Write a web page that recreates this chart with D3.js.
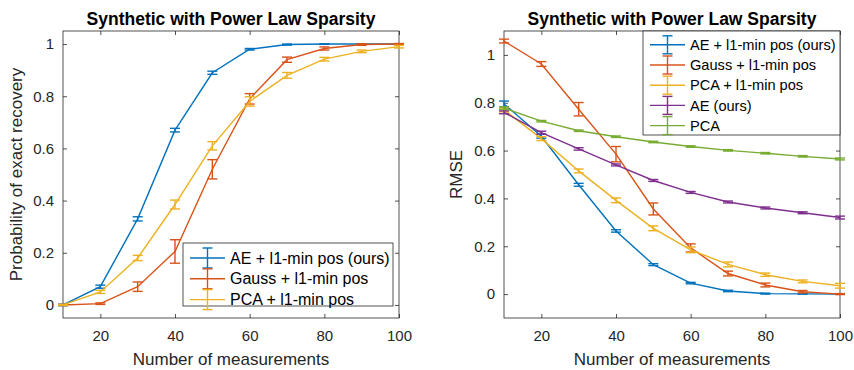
<!DOCTYPE html>
<html>
<head>
<meta charset="utf-8">
<script src="https://cdn.jsdelivr.net/npm/d3@7"></script>
<style>
  body { margin: 0; background: #fff; }
  svg { display: block; font-family: "Liberation Sans", Arial, sans-serif; }
</style>
</head>
<body>
<svg id="chart" width="854" height="370"></svg>
<script>
// ---------- DATA ----------
const measurements = [10, 20, 30, 40, 50, 60, 70, 80, 90, 100];

// Left: Probability of exact recovery
const probAE    = [0, 0.07, 0.33, 0.67, 0.89, 0.98, 0.998, 1.0, 1.0, 1.0];
const probAEErr = [0.003, 0.006, 0.008, 0.007, 0.006, 0.003, 0.002, 0.001, 0.001, 0.001];
const probGauss    = [0, 0.005, 0.07, 0.205, 0.52, 0.79, 0.94, 0.983, 0.998, 1.0];
const probGaussErr = [0.002, 0.003, 0.018, 0.045, 0.037, 0.02, 0.01, 0.006, 0.003, 0.002];
const probPCA    = [0, 0.05, 0.18, 0.385, 0.61, 0.78, 0.88, 0.942, 0.972, 0.99];
const probPCAErr = [0.002, 0.006, 0.01, 0.017, 0.016, 0.018, 0.011, 0.007, 0.005, 0.005];

// Right: RMSE
const rmseAE    = [0.795, 0.66, 0.457, 0.264, 0.123, 0.046, 0.013, 0.002, 0.001, 0.0];
const rmseAEErr = [0.012, 0.008, 0.006, 0.005, 0.004, 0.003, 0.003, 0.002, 0.001, 0.001];
const rmseGauss    = [1.058, 0.962, 0.773, 0.585, 0.356, 0.193, 0.086, 0.038, 0.01, 0.0];
const rmseGaussErr = [0.008, 0.01, 0.028, 0.032, 0.025, 0.017, 0.01, 0.008, 0.005, 0.002];
const rmsePCA    = [0.77, 0.65, 0.515, 0.392, 0.275, 0.185, 0.124, 0.081, 0.053, 0.035];
const rmsePCAErr = [0.008, 0.008, 0.008, 0.01, 0.01, 0.012, 0.01, 0.007, 0.006, 0.01];
const rmseAEonly    = [0.76, 0.675, 0.607, 0.54, 0.475, 0.425, 0.385, 0.36, 0.34, 0.32];
const rmseAEonlyErr = [0.006, 0.006, 0.005, 0.004, 0.004, 0.004, 0.004, 0.004, 0.004, 0.006];
const rmsePCAonly    = [0.778, 0.723, 0.683, 0.658, 0.636, 0.617, 0.601, 0.589, 0.576, 0.565];
const rmsePCAonlyErr = [0.005, 0.003, 0.003, 0.003, 0.003, 0.003, 0.003, 0.003, 0.003, 0.004];

const xTicks = [20, 40, 60, 80, 100];
const yTicksLeft = [0, 0.2, 0.4, 0.6, 0.8, 1];
const yTicksRight = [0, 0.2, 0.4, 0.6, 0.8, 1];

const names = ["AE + l1-min pos (ours)", "Gauss + l1-min pos", "PCA + l1-min pos", "AE (ours)", "PCA"];
const colors = ["#0072BD", "#D95319", "#EDB120", "#7E2F8E", "#77AC30"];

const chartTitle = "Synthetic with Power Law Sparsity";
const xLabel = "Number of measurements";
const yLabelLeft = "Probability of exact recovery";
const yLabelRight = "RMSE";

// ---------- DRAW ----------
const svg = d3.select("#chart");
const axisColor = "#262626";

function panel(cfg) {
  const { x0, x1, y0, y1, yDomain, yTicks, series, yLabel, yLabelX, legend } = cfg;
  const x = d3.scaleLinear().domain([10, 100]).range([x0, x1]);
  const y = d3.scaleLinear().domain(yDomain).range([y1, y0]);
  const g = svg.append("g");

  // axes (box with inward ticks on all sides)
  const tl = 4;
  const axB = d3.axisBottom(x).tickValues(xTicks).tickSizeInner(-tl).tickSizeOuter(0).tickPadding(12).tickFormat(d3.format("d"));
  const axT = d3.axisTop(x).tickValues(xTicks).tickSizeInner(-tl).tickSizeOuter(0).tickFormat("");
  const axL = d3.axisLeft(y).tickValues(yTicks).tickSizeInner(-tl).tickSizeOuter(0).tickPadding(9).tickFormat(d => d3.format("")(d));
  const axR = d3.axisRight(y).tickValues(yTicks).tickSizeInner(-tl).tickSizeOuter(0).tickFormat("");

  [[axB, `translate(0,${y1})`], [axT, `translate(0,${y0})`], [axL, `translate(${x0},0)`], [axR, `translate(${x1},0)`]].forEach(([ax, tr]) => {
    const a = g.append("g").attr("transform", tr).call(ax);
    a.select(".domain").remove();
    a.selectAll(".tick line").attr("stroke", axisColor).attr("stroke-width", 0.8);
    a.selectAll(".tick text").attr("fill", axisColor).style("font-size", "15px").style("font-family", "'Liberation Sans', Arial, sans-serif");
  });
  g.append("rect").attr("x", x0).attr("y", y0).attr("width", x1 - x0).attr("height", y1 - y0)
    .attr("fill", "none").attr("stroke", axisColor).attr("stroke-width", 0.8);

  // series
  const line = d3.line().x(d => x(d.x)).y(d => y(d.y));
  const capW = 5;
  series.forEach((s, si) => {
    const pts = measurements.map((m, i) => ({ x: m, y: s.vals[i], e: s.errs[i] }));
    const sg = g.append("g");
    sg.append("path").datum(pts).attr("d", line).attr("fill", "none")
      .attr("stroke", s.color).attr("stroke-width", 1.4);
    const eb = sg.selectAll(".eb").data(pts).enter().append("g");
    eb.append("line").attr("x1", d => x(d.x)).attr("x2", d => x(d.x))
      .attr("y1", d => y(d.y - d.e)).attr("y2", d => y(d.y + d.e))
      .attr("stroke", s.color).attr("stroke-width", 1.4);
    eb.append("line").attr("x1", d => x(d.x) - capW).attr("x2", d => x(d.x) + capW)
      .attr("y1", d => y(d.y - d.e)).attr("y2", d => y(d.y - d.e))
      .attr("stroke", s.color).attr("stroke-width", 1.4);
    eb.append("line").attr("x1", d => x(d.x) - capW).attr("x2", d => x(d.x) + capW)
      .attr("y1", d => y(d.y + d.e)).attr("y2", d => y(d.y + d.e))
      .attr("stroke", s.color).attr("stroke-width", 1.4);
  });

  // title
  svg.append("text").attr("x", (x0 + x1) / 2).attr("y", 25).attr("text-anchor", "middle")
    .style("font-size", "17.5px").style("font-weight", "bold").attr("fill", "#000").text(chartTitle);
  // x label
  svg.append("text").attr("x", (x0 + x1) / 2).attr("y", 365).attr("text-anchor", "middle")
    .style("font-size", "17px").attr("fill", axisColor).text(xLabel);
  // y label
  svg.append("text").attr("transform", `translate(${yLabelX},${(y0 + y1) / 2}) rotate(-90)`)
    .attr("text-anchor", "middle").style("font-size", "17px").attr("fill", axisColor).text(yLabel);

  // legend
  const L = legend;
  const lg = svg.append("g");
  lg.append("rect").attr("x", L.x).attr("y", L.y).attr("width", L.w).attr("height", L.h)
    .attr("fill", "#fff").attr("stroke", axisColor).attr("stroke-width", 0.8);
  series.forEach((s, i) => {
    const cy = L.firstY + i * L.dy;
    const lx0 = L.x + 7, lx1 = L.x + 42, mx = (lx0 + lx1) / 2;
    const mh = L.mh;
    lg.append("line").attr("x1", lx0).attr("x2", lx1).attr("y1", cy).attr("y2", cy).attr("stroke", s.color).attr("stroke-width", 1.4);
    lg.append("line").attr("x1", mx).attr("x2", mx).attr("y1", cy - mh).attr("y2", cy + mh).attr("stroke", s.color).attr("stroke-width", 1.4);
    lg.append("line").attr("x1", mx - 5).attr("x2", mx + 5).attr("y1", cy - mh).attr("y2", cy - mh).attr("stroke", s.color).attr("stroke-width", 1.4);
    lg.append("line").attr("x1", mx - 5).attr("x2", mx + 5).attr("y1", cy + mh).attr("y2", cy + mh).attr("stroke", s.color).attr("stroke-width", 1.4);
    lg.append("text").attr("x", L.x + 47).attr("y", cy).attr("dy", "0.35em")
      .style("font-size", L.fs + "px").attr("fill", "#000").text(s.name);
  });
}

panel({
  x0: 63, x1: 399, y0: 31, y1: 318, yDomain: [-0.05, 1.05], yTicks: yTicksLeft, yLabel: yLabelLeft, yLabelX: 22,
  series: [
    { name: names[0], color: colors[0], vals: probAE, errs: probAEErr },
    { name: names[1], color: colors[1], vals: probGauss, errs: probGaussErr },
    { name: names[2], color: colors[2], vals: probPCA, errs: probPCAErr }
  ],
  legend: { x: 183, y: 243, w: 210, h: 63, firstY: 258, dy: 20.8, fs: 16, mh: 10 }
});

panel({
  x0: 504, x1: 840, y0: 31, y1: 318, yDomain: [-0.1, 1.1], yTicks: yTicksRight, yLabel: yLabelRight, yLabelX: 462,
  series: [
    { name: names[0], color: colors[0], vals: rmseAE, errs: rmseAEErr },
    { name: names[1], color: colors[1], vals: rmseGauss, errs: rmseGaussErr },
    { name: names[2], color: colors[2], vals: rmsePCA, errs: rmsePCAErr },
    { name: names[3], color: colors[3], vals: rmseAEonly, errs: rmseAEonlyErr },
    { name: names[4], color: colors[4], vals: rmsePCAonly, errs: rmsePCAonlyErr }
  ],
  legend: { x: 643, y: 31, w: 197, h: 104, firstY: 44.8, dy: 20.2, fs: 14.6, mh: 9 }
});
</script>
</body>
</html>
